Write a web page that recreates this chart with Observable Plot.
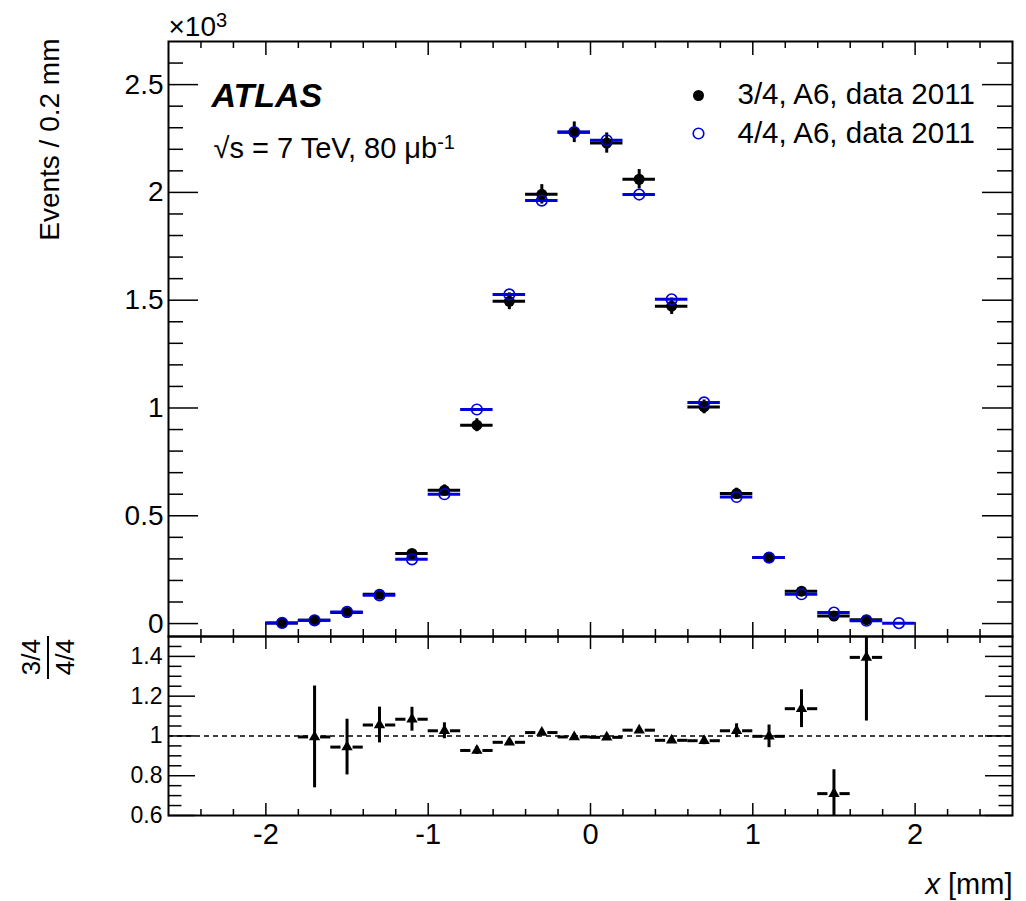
<!DOCTYPE html>
<html><head><meta charset="utf-8">
<script src="https://cdn.jsdelivr.net/npm/d3@7"></script>
<script src="https://cdn.jsdelivr.net/npm/@observablehq/plot@0.6"></script>
<style>
body{margin:0;background:#fff;}
#chart{position:relative;width:1026px;height:901px;background:#fff;}
#chart svg{position:absolute;left:0;display:block;overflow:visible;}
</style></head><body><div id="chart"></div>
<script>
// ---------- data ----------
const binCenters = [-1.9,-1.7,-1.5,-1.3,-1.1,-0.9,-0.7,-0.5,-0.3,-0.1,0.1,0.3,0.5,0.7,0.9,1.1,1.3,1.5,1.7,1.9];
const binWidth = 0.2;
// Events / 0.2 mm (x10^3)
const events34 = [0.003,0.015,0.051,0.136,0.325,0.618,0.920,1.495,1.991,2.279,2.229,2.061,1.472,1.005,0.603,0.306,0.150,0.035,0.018,null];
const err34    = [0.002,0.004,0.007,0.012,0.018,0.025,0.030,0.039,0.045,0.048,0.047,0.045,0.038,0.032,0.025,0.017,0.012,0.006,0.004,null];
const events44 = [0.003,0.015,0.054,0.131,0.298,0.600,0.993,1.527,1.962,2.280,2.242,1.990,1.504,1.026,0.587,0.306,0.136,0.051,0.013,0.002];
// ratio 3/4 over 4/4
const ratio    = [null,0.995,0.944,1.055,1.084,1.026,0.927,0.968,1.017,0.995,0.993,1.029,0.978,0.976,1.026,0.998,1.137,0.710,1.395,null];
const ratioErr = [null,0.256,0.140,0.090,0.060,0.040,0.020,0.015,0.013,0.012,0.012,0.013,0.015,0.020,0.035,0.057,0.095,0.120,0.320,null];

const seriesNames = ["3/4, A6, data 2011","4/4, A6, data 2011"];

// ticks and tick labels
const xMajor = [-2,-1,0,1,2];
const xLabels = ["-2","-1","0","1","2"];
const xMinor = [-2.4,-2.2,-1.8,-1.6,-1.4,-1.2,-0.8,-0.6,-0.4,-0.2,0.2,0.4,0.6,0.8,1.2,1.4,1.6,1.8,2.2,2.4];
const yTopMajor = [0,0.5,1,1.5,2,2.5];
const yTopLabels = ["0","0.5","1","1.5","2","2.5"];
const yTopMinor = [0.1,0.2,0.3,0.4,0.6,0.7,0.8,0.9,1.1,1.2,1.3,1.4,1.6,1.7,1.8,1.9,2.1,2.2,2.3,2.4,2.6];
const yRatioMajor = [0.6,0.8,1,1.2,1.4];
const yRatioLabels = ["0.6","0.8","1","1.2","1.4"];
const yRatioMinor = [0.65,0.7,0.75,0.85,0.9,0.95,1.05,1.1,1.15,1.25,1.3,1.35,1.45];

// ---------- layout / style ----------
const FONT = "'Liberation Sans', Arial, Helvetica, sans-serif";
const W = 1026, ML = 168, MR = 14;
const frameW = W - ML - MR;
const topTop = 41, topBottom = 636;     // page y of top frame
const botBottom = 815;                  // page y of bottom frame bottom
const BLUE = "#0000dd";

const rows = binCenters.map((x,i)=>({x, lo:x-binWidth/2, hi:x+binWidth/2,
  a:events34[i], ea:err34[i], b:events44[i], r:ratio[i], er:ratioErr[i]}));
const rowsA = rows.filter(d=>d.a!=null);
const rowsB = rows.filter(d=>d.b!=null);
const rowsR = rows.filter(d=>d.r!=null);

const xDomain = [-2.6, 2.6];
const yTopDomain = [-0.06, 2.7];
const yRatDomain = [0.6, 1.5];

function xTicks(values, len, frameH, side){
  return Plot.ruleX(values, {x:d=>d, stroke:"black", strokeWidth:1.5,
    ...(side==="bottom" ? {insetTop: frameH-len} : {insetBottom: frameH-len})});
}
function yTicks(values, len, side){
  return Plot.ruleY(values, {y:d=>d, stroke:"black", strokeWidth:1.5,
    ...(side==="left" ? {insetRight: frameW-len} : {insetLeft: frameW-len})});
}

// ---------- top panel ----------
const topH = 640;
const topFrameH = topBottom - topTop;
const topPlot = Plot.plot({
  width: W, height: topH,
  marginLeft: ML, marginRight: MR, marginTop: topTop, marginBottom: topH - topBottom,
  x: {domain: xDomain, axis: null},
  y: {domain: yTopDomain, axis: null},
  style: {fontFamily: FONT, fontSize: "28px", background: "transparent", overflow: "visible"},
  marks: [
    // ticks
    xTicks(xMajor, 14, topFrameH, "bottom"), xTicks(xMinor, 7, topFrameH, "bottom"),
    xTicks(xMajor, 14, topFrameH, "top"), xTicks(xMinor, 7, topFrameH, "top"),
    yTicks(yTopMajor, 30, "left"), yTicks(yTopMinor, 15, "left"),
    yTicks(yTopMajor, 30, "right"), yTicks(yTopMinor, 15, "right"),
    // 3/4 error bars
    Plot.ruleY(rowsA, {y:"a", x1:"lo", x2:"hi", stroke:"black", strokeWidth:3}),
    Plot.ruleX(rowsA, {x:"x", y1:d=>d.a-d.ea, y2:d=>d.a+d.ea, stroke:"black", strokeWidth:3}),
    // 4/4 bars
    Plot.ruleY(rowsB, {y:"b", x1:"lo", x2:"hi", stroke:BLUE, strokeWidth:3}),
    // markers
    Plot.dot(rowsA, {x:"x", y:"a", r:5.5, fill:"black", stroke:"none"}),
    Plot.dot(rowsB, {x:"x", y:"b", r:5.3, fill:"none", stroke:BLUE, strokeWidth:1.6}),
    // tick labels
    Plot.text(yTopMajor, {y:d=>d, text:(d,i)=>yTopLabels[i], frameAnchor:"left", textAnchor:"end", lineAnchor:"middle", dx:-5, fontSize:28, fill:"black"}),
    // annotations
    Plot.text(["×10"], {frameAnchor:"top-left", textAnchor:"start", lineAnchor:"bottom", dy:-6, fontSize:28, fill:"black"}),
    Plot.text(["ATLAS"], {frameAnchor:"top-left", textAnchor:"start", lineAnchor:"bottom", dx:43, dy:65, fontSize:34, fontWeight:"bold", fontStyle:"italic", fill:"black"}),
    Plot.text(["√s = 7 TeV, 80 μb"], {frameAnchor:"top-left", textAnchor:"start", lineAnchor:"bottom", dx:45, dy:116, fontSize:29, fill:"black"}),
    // legend
    Plot.dot([seriesNames[0]], {frameAnchor:"top-left", dx:530, dy:54, r:5.5, fill:"black", stroke:"none"}),
    Plot.dot([seriesNames[1]], {frameAnchor:"top-left", dx:530, dy:92, r:5.3, fill:"none", stroke:BLUE, strokeWidth:1.6}),
    Plot.text([seriesNames[0]], {frameAnchor:"top-left", textAnchor:"start", lineAnchor:"bottom", dx:569, dy:62, fontSize:29.5, fill:"black"}),
    Plot.text([seriesNames[1]], {frameAnchor:"top-left", textAnchor:"start", lineAnchor:"bottom", dx:569, dy:101, fontSize:29.5, fill:"black"}),
    // y title
    Plot.text(["Events / 0.2 mm"], {frameAnchor:"top-left", textAnchor:"end", lineAnchor:"middle", rotate:-90, dx:-118, dy:-3, fontSize:28, fill:"black"}),
    Plot.frame({stroke:"black", strokeWidth:2})
  ]
});

// ---------- ratio panel ----------
const botTopPage = topBottom - 4;
const botH = 901 - botTopPage;
const botFrameH = botBottom - topBottom;
const gap = 0.037;
const ratPlot = Plot.plot({
  width: W, height: botH,
  marginLeft: ML, marginRight: MR, marginTop: 4, marginBottom: botH - 4 - botFrameH,
  x: {domain: xDomain, axis: null},
  y: {domain: yRatDomain, axis: null},
  style: {fontFamily: FONT, fontSize: "23px", background: "transparent", overflow: "visible"},
  marks: [
    xTicks(xMajor, 13, botFrameH, "top"), xTicks(xMinor, 7, botFrameH, "top"),
    xTicks(xMajor, 12, botFrameH, "bottom"), xTicks(xMinor, 6, botFrameH, "bottom"),
    yTicks(yRatioMajor, 27, "left"), yTicks(yRatioMinor, 13.5, "left"),
    yTicks(yRatioMajor, 27, "right"), yTicks(yRatioMinor, 13.5, "right"),
    Plot.ruleY([1], {stroke:"black", strokeWidth:1.5, strokeDasharray:"5,4"}),
    Plot.ruleY(rowsR, {y:"r", x1:"lo", x2:d=>d.x-gap, stroke:"black", strokeWidth:3}),
    Plot.ruleY(rowsR, {y:"r", x1:d=>d.x+gap, x2:"hi", stroke:"black", strokeWidth:3}),
    Plot.ruleX(rowsR, {x:"x", y1:d=>Math.max(yRatDomain[0], d.r-d.er), y2:d=>Math.min(yRatDomain[1], d.r+d.er), stroke:"black", strokeWidth:3}),
    Plot.dot(rowsR, {x:"x", y:"r", symbol:"triangle", r:4.2, fill:"black", stroke:"none"}),
    Plot.text(yRatioMajor, {y:d=>d, text:(d,i)=>yRatioLabels[i], frameAnchor:"left", textAnchor:"end", lineAnchor:"middle", dx:-6, fontSize:23, fill:"black"}),
    Plot.text(xMajor, {x:d=>d, text:(d,i)=>xLabels[i], frameAnchor:"bottom", textAnchor:"middle", lineAnchor:"top", dy:8, fontSize:29, fill:"black"}),
    Plot.text(["x [mm]"], {frameAnchor:"bottom-right", textAnchor:"end", lineAnchor:"bottom", dy:78, fontSize:29, fill:"black"}),
    Plot.text(["3/4"], {frameAnchor:"top-left", textAnchor:"middle", lineAnchor:"middle", rotate:-90, dx:-137, dy:20.7, fontSize:26, fill:"black"}),
    Plot.text(["4/4"], {frameAnchor:"top-left", textAnchor:"middle", lineAnchor:"middle", rotate:-90, dx:-103, dy:20.7, fontSize:26, fill:"black"}),
    Plot.frame({stroke:"black", strokeWidth:2})
  ]
});

const chart = document.getElementById("chart");
topPlot.style.top = "0px";
ratPlot.style.top = botTopPage + "px";
chart.appendChild(topPlot);
chart.appendChild(ratPlot);

// superscripts / italic via tspans (text stays real text)
function findText(svg, s){
  return d3.select(svg).selectAll("text").filter(function(){ return this.textContent === s; });
}
findText(topPlot, "×10").append("tspan").attr("dy", "-0.45em").attr("font-size", 20).text("3");
findText(topPlot, "√s = 7 TeV, 80 μb").append("tspan").attr("dy", "-0.45em").attr("font-size", 20).text("-1");
findText(ratPlot, "x [mm]").each(function(){
  const t = d3.select(this); t.text(null);
  t.append("tspan").attr("font-style", "italic").text("x");
  t.append("tspan").text(" [mm]");
});
// fraction bar of the ratio title
d3.select(ratPlot).append("line")
  .attr("x1", 48).attr("x2", 48).attr("y1", 4).attr("y2", 47)
  .attr("stroke", "black").attr("stroke-width", 2);
</script></body></html>
